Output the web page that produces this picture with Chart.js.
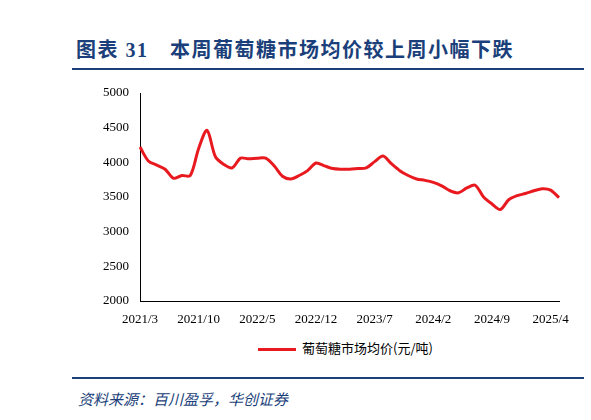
<!DOCTYPE html>
<html><head><meta charset="utf-8">
<script src="https://cdn.jsdelivr.net/npm/chart.js@4"></script>
<style>
body{margin:0;width:591px;height:420px;background:#fff;position:relative;overflow:hidden;font-family:"Liberation Serif","Noto Sans CJK SC",serif}
#title{position:absolute;left:76px;top:34px;font:bold 20px "Liberation Serif","Noto Sans CJK SC";color:#1b3f7a;letter-spacing:1.5px}
.rule{position:absolute;left:72px;width:512px;height:2px;background:#1b3f7a}
#legend{position:absolute;top:338px;left:0;width:591px;text-align:center;font:13px "Noto Sans CJK SC";color:#000;padding-left:100px;box-sizing:border-box}
#legend span.sw{display:inline-block;width:38px;height:3px;background:#e8191f;vertical-align:middle;margin-right:6px}
#src{position:absolute;left:78px;top:388px;font:italic 15px "Noto Sans CJK SC";color:#1b3f7a}
canvas{position:absolute;left:0;top:0}
</style></head><body>
<div id="title">图表 31　本周葡萄糖市场均价较上周小幅下跌</div>
<div class="rule" style="top:68px"></div>
<div id="legend"><span class="sw"></span>葡萄糖市场均价(元/吨)</div>
<div class="rule" style="top:377px"></div>
<div id="src">资料来源：百川盈孚，华创证券</div>
<canvas id="c" width="591" height="420"></canvas>
<script>
const months = ['2021/3','2021/4','2021/5','2021/6','2021/7','2021/8','2021/9','2021/10','2021/11','2021/12',
  '2022/1','2022/2','2022/3','2022/4','2022/5','2022/6','2022/7','2022/8','2022/9','2022/10','2022/11','2022/12',
  '2023/1','2023/2','2023/3','2023/4','2023/5','2023/6','2023/7','2023/8','2023/9','2023/10','2023/11','2023/12',
  '2024/1','2024/2','2024/3','2024/4','2024/5','2024/6','2024/7','2024/8','2024/9','2024/10','2024/11','2024/12',
  '2025/1','2025/2','2025/3','2025/4','2025/5'];
const prices = [4220,4020,3960,3900,3770,3810,3810,4200,4460,4080,
  3970,3920,4060,4050,4060,4060,3950,3800,3760,3810,3880,3990,
  3950,3910,3900,3900,3910,3920,4010,4090,3980,3880,3810,3760,
  3740,3710,3660,3590,3560,3630,3670,3500,3400,3320,3460,3520,
  3550,3590,3620,3600,3490];
const tickLabels = ['2021/3','2021/10','2022/5','2022/12','2023/7','2024/2','2024/9','2025/4'];

new Chart(document.getElementById('c'), {
  type: 'line',
  data: { labels: months, datasets: [{ data: prices, borderColor: '#e8191f', borderWidth: 3, pointRadius: 0, tension: 0.3, fill: false }] },
  options: {
    responsive: false, animation: false,
    layout: { padding: { left: 100, right: 32, top: 93, bottom: 97 } },
    plugins: { legend: { display: false }, tooltip: { enabled: false } },
    scales: {
      x: {
        offset: false,
        grid: { display: false },
        border: { color: '#000' },
        afterFit: s => { s.height = 22; },
        ticks: { autoSkip: false, maxRotation: 0, color: '#000', font: { family: 'Liberation Serif', size: 13 },
          callback: function (v, i) { const l = months[i]; return tickLabels.includes(l) ? l : null; } }
      },
      y: {
        min: 2000, max: 5000,
        grid: { display: false },
        border: { color: '#000' },
        afterFit: s => { s.width = 40; },
        ticks: { stepSize: 500, color: '#000', font: { family: 'Liberation Serif', size: 13 }, callback: v => String(v) }
      }
    }
  }
});
</script>
</body></html>
